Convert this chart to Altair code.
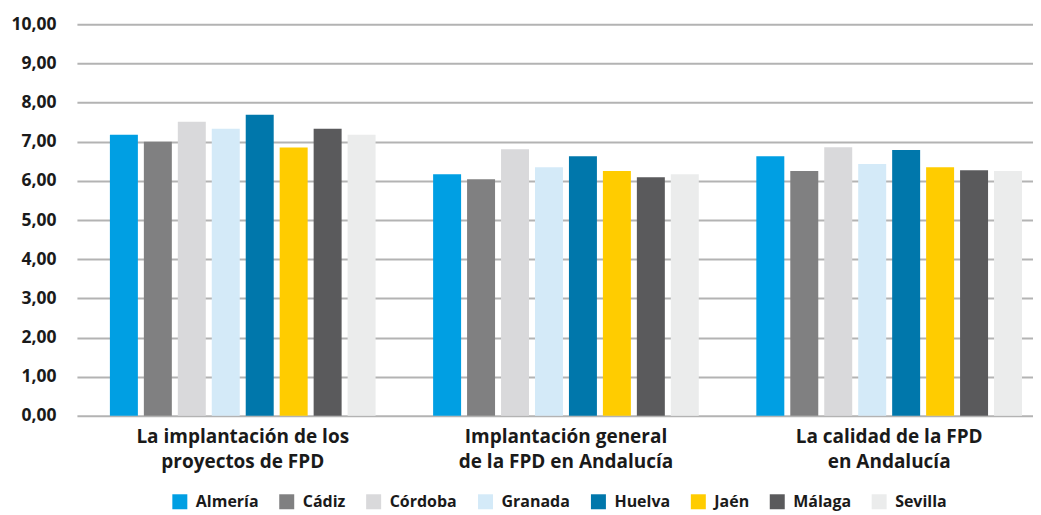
import altair as alt
import pandas as pd

categorias = [
    "La implantación de los|proyectos de FPD",
    "Implantación general|de la FPD en Andalucía",
    "La calidad de la FPD|en Andalucía",
]
provincias = ["Almería", "Cádiz", "Córdoba", "Granada", "Huelva", "Jaén", "Málaga", "Sevilla"]
colores = ["#009FE3", "#808081", "#D9D9DB", "#D4EAF8", "#0077AB", "#FFCC00", "#5A5A5C", "#EBECEC"]

valores_cat1 = [7.18, 7.00, 7.51, 7.33, 7.69, 6.85, 7.33, 7.18]
valores_cat2 = [6.17, 6.04, 6.81, 6.35, 6.63, 6.25, 6.09, 6.17]
valores_cat3 = [6.63, 6.25, 6.86, 6.43, 6.79, 6.35, 6.27, 6.25]

rows = []
for cat, vals in zip(categorias, [valores_cat1, valores_cat2, valores_cat3]):
    for p, v in zip(provincias, vals):
        rows.append({"categoria": cat, "provincia": p, "valor": v})
df = pd.DataFrame(rows)

FONT = "Open Sans"

chart = alt.Chart(df).mark_bar().encode(
    x=alt.X(
        "categoria:N",
        sort=categorias,
        scale=alt.Scale(paddingInner=0.178, paddingOuter=0.068, align=0.75),
        axis=alt.Axis(
            title=None, labelAngle=0, domain=False, ticks=False,
            labelExpr="split(datum.label, '|')",
            labelFont=FONT, labelFontWeight="bold", labelFontSize=19,
            labelColor="#1a1a1a", labelPadding=12, labelLineHeight=25,
            labelLimit=0,
        ),
    ),
    xOffset=alt.XOffset(
        "provincia:N", sort=provincias,
        scale=alt.Scale(paddingInner=0.176, paddingOuter=0),
    ),
    y=alt.Y(
        "valor:Q",
        scale=alt.Scale(domain=[0, 10], nice=False),
        axis=alt.Axis(
            title=None, values=list(range(0, 11)), domain=False, ticks=False,
            labelExpr="replace(format(datum.value, '.2f'), '.', ',')",
            labelFont=FONT, labelFontWeight="bold", labelFontSize=17.5,
            labelColor="#1a1a1a", labelPadding=21,
            gridColor="#B3B3B3", gridWidth=2,
        ),
    ),
    color=alt.Color(
        "provincia:N", sort=provincias,
        scale=alt.Scale(domain=provincias, range=colores),
        legend=alt.Legend(
            title=None, orient="none", direction="horizontal",
            legendX=95, legendY=470,
            symbolType="square", symbolSize=225, symbolStrokeWidth=0,
            labelFont=FONT, labelFontWeight="bold", labelFontSize=16,
            labelColor="#1a1a1a", columnPadding=20, labelOffset=8,
        ),
    ),
).properties(
    width=957, height=392,
    padding={"left": 2, "top": 7, "right": 0, "bottom": 10},
).configure_view(stroke=None)

chart.save("out.html", embed_options={"renderer": "svg", "actions": False})
